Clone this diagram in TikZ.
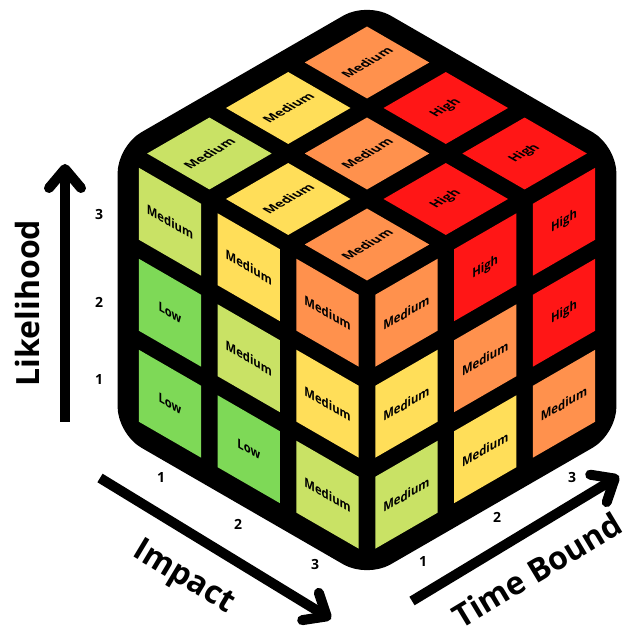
\documentclass[tikz,border=0pt]{standalone}
\usepackage{fontspec}
\setmainfont{Open Sans}
\usetikzlibrary{arrows.meta}

\definecolor{lowgreen}{HTML}{7ED957}
\definecolor{palegreen}{HTML}{C9E265}
\definecolor{medyellow}{HTML}{FFDE59}
\definecolor{medorange}{HTML}{FF914D}
\definecolor{highred}{HTML}{FF1616}

\tikzset{
  celltext/.style={font=\bfseries\fontsize{13}{15}\selectfont, inner sep=0pt},
  axislabel/.style={font=\bfseries\fontsize{32}{38}\selectfont, inner sep=0pt},
  axisnum/.style={font=\bfseries\fontsize{14}{16}\selectfont, inner sep=0pt},
  axisarrow/.style={line width=10pt, -{Straight Barb[length=19pt, width=32pt, line cap=round, line join=round]}}
}

\begin{document}
\begin{tikzpicture}[x=1pt, y=1pt]
  \useasboundingbox (0,0) rectangle (627,631);

  % the cube
  \begin{scope}[shift={(367,68)}, x={(78.8pt,45.5pt)}, y={(-78.8pt,45.5pt)}, z={(0pt,91pt)}]
    \fill[draw=black, line width=26pt, rounded corners=20pt, line join=round]
      (0,0,0) -- (3,0,0) -- (3,0,3) -- (3,3,3) -- (0,3,3) -- (0,3,0) -- cycle;

    % left face: impact x likelihood
    \foreach \i/\l/\col/\txt in {1/1/lowgreen/Low, 1/2/lowgreen/Low, 1/3/palegreen/Medium,
                                 2/1/lowgreen/Low, 2/2/palegreen/Medium, 2/3/medyellow/Medium,
                                 3/1/palegreen/Medium, 3/2/medyellow/Medium, 3/3/medorange/Medium}{
      \pgfmathsetmacro\bb{3.5-\i}
      \pgfmathsetmacro\cc{\l-.5}
      \fill[\col] (0,{\bb-.395},{\cc-.395}) -- (0,{\bb+.395},{\cc-.395})
                  -- (0,{\bb+.395},{\cc+.395}) -- (0,{\bb-.395},{\cc+.395}) -- cycle;
      \node[celltext, cm={.866,-.5,0,1,(0,0)}] (left-\i-\l) at (0,\bb,\cc) {\txt};
    }

    % right face: time bound x likelihood
    \foreach \t/\l/\col/\txt in {1/1/palegreen/Medium, 1/2/medyellow/Medium, 1/3/medorange/Medium,
                                 2/1/medyellow/Medium, 2/2/medorange/Medium, 2/3/highred/High,
                                 3/1/medorange/Medium, 3/2/highred/High, 3/3/highred/High}{
      \pgfmathsetmacro\aa{\t-.5}
      \pgfmathsetmacro\cc{\l-.5}
      \fill[\col] ({\aa-.395},0,{\cc-.395}) -- ({\aa+.395},0,{\cc-.395})
                  -- ({\aa+.395},0,{\cc+.395}) -- ({\aa-.395},0,{\cc+.395}) -- cycle;
      \node[celltext, cm={.866,.5,0,1,(0,0)}] (right-\t-\l) at (\aa,0,\cc) {\txt};
    }

    % top face: impact x time bound
    \foreach \i/\t/\col/\txt in {1/1/palegreen/Medium, 1/2/medyellow/Medium, 1/3/medorange/Medium,
                                 2/1/medyellow/Medium, 2/2/medorange/Medium, 2/3/highred/High,
                                 3/1/medorange/Medium, 3/2/highred/High, 3/3/highred/High}{
      \pgfmathsetmacro\aa{\t-.5}
      \pgfmathsetmacro\bb{3.5-\i}
      \fill[\col] ({\aa-.395},{\bb-.395},3) -- ({\aa+.395},{\bb-.395},3)
                  -- ({\aa+.395},{\bb+.395},3) -- ({\aa-.395},{\bb+.395},3) -- cycle;
      \node[celltext, cm={.866,.5,-.866,.5,(0,0)}] (top-\i-\t) at (\aa,\bb,3) {\txt};
    }
  \end{scope}

  % axes
  \coordinate (lik-start) at (65,209);
  \coordinate (lik-end) at (65,467);
  \coordinate (imp-start) at (100,153);
  \coordinate (imp-end) at (331,12);
  \coordinate (time-start) at (412,30);
  \coordinate (time-end) at (619,155);
  \draw[axisarrow] (lik-start) -- (lik-end);
  \draw[axisarrow] (imp-start) -- (imp-end);
  \draw[axisarrow] (time-start) -- (time-end);

  \node[axislabel, rotate=90] (likelihood) at (27,328) {Likelihood};
  \node[axislabel, rotate=-31] (impact) at (183,53) {Impact};
  \node[axislabel, rotate=31] (timebound) at (537,61) {Time Bound};

  \node[axisnum] (lik-1) at (99,251) {1};
  \node[axisnum] (lik-2) at (99,329) {2};
  \node[axisnum] (lik-3) at (99,416) {3};
  \node[axisnum] (imp-1) at (161,153) {1};
  \node[axisnum] (imp-2) at (238,107) {2};
  \node[axisnum] (imp-3) at (315,66) {3};
  \node[axisnum] (time-1) at (423,69) {1};
  \node[axisnum] (time-2) at (497,114) {2};
  \node[axisnum] (time-3) at (572,153) {3};
\end{tikzpicture}
\end{document}
